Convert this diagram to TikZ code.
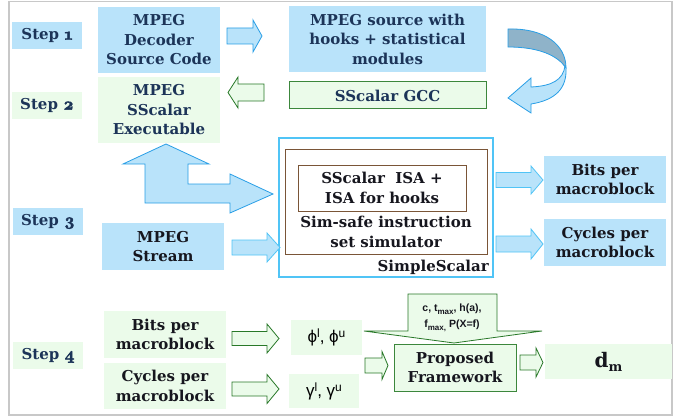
\documentclass[tikz,border=0pt]{standalone}
\usepackage{fontspec}
\newfontfamily\dv{DejaVu Serif}
\newfontfamily\sansf{Liberation Sans}
\newfontfamily\osnum{Latin Modern Roman}[Numbers=OldStyle, FakeBold=3]
\definecolor{lblue}{RGB}{185,227,250}
\definecolor{lgreen}{RGB}{235,251,234}
\definecolor{navy}{RGB}{28,52,88}
\definecolor{txt}{RGB}{22,22,30}
\definecolor{ablue}{RGB}{40,158,230}
\definecolor{cblue}{RGB}{80,196,246}
\definecolor{dgreen}{RGB}{40,120,40}
\definecolor{bgreen}{RGB}{60,135,60}
\definecolor{framegray}{RGB}{200,200,200}
\definecolor{brownc}{RGB}{122,85,55}
\definecolor{ribbon}{RGB}{143,179,201}
\newcommand{\blockarrow}[7]{% style, x1, x2, yc, shaft, head, headbase
  \filldraw[#1] (#2,#4-#5) -- (#7,#4-#5) -- (#7,#4-#6) -- (#3,#4) -- (#7,#4+#6) -- (#7,#4+#5) -- (#2,#4+#5) -- cycle;}
\tikzset{
  base/.style={inner sep=0pt, align=center, font=\dv\bfseries\fontsize{15}{19.5}\selectfont},
  bbox/.style={base, fill=lblue, text=navy},
  gbox/.style={base, fill=lgreen, text=navy},
  stepbox/.style={base, minimum width=70pt, minimum height=27pt, font=\dv\bfseries\fontsize{14}{17}\selectfont},
  barrow/.style={fill=lblue, draw=ablue, line width=0.8pt, line join=miter},
  carrow/.style={fill=lblue, draw=cblue, line width=0.8pt, line join=miter},
  garrow/.style={fill=lgreen, draw=dgreen, line width=0.8pt, line join=miter},
}
\newcommand{\onum}[1]{{\osnum\bfseries\fontsize{17}{17}\selectfont #1}}
\begin{document}
\begin{tikzpicture}[x=1pt,y=-1pt]
\useasboundingbox (0,0) rectangle (688,417);
\draw[framegray, line width=1.2pt] (9,1.5) rectangle (672,415);

% step labels
\node[stepbox, bbox] (s1) at (47,35.5) {Step \onum{1}};
\node[stepbox, gbox] (s2) at (47,105.5) {Step \onum{2}};
\node[stepbox, bbox] (s3) at (48,221.5) {Step \onum{3}};
\node[stepbox, gbox] (s4) at (48,355.5) {Step \onum{4}};

% step 1 / 2
\node[bbox, minimum width=122pt, minimum height=66pt] (src) at (159,40) {MPEG\\Decoder\\Source Code};
\node[gbox, minimum width=122pt, minimum height=66pt] (exe) at (159,110) {MPEG\\SScalar\\Executable};
\node[bbox, minimum width=197pt, minimum height=66pt] (hooks) at (387.5,39) {MPEG source with\\hooks + statistical\\modules};
\node[gbox, draw=bgreen, line width=1pt, minimum width=197pt, minimum height=27pt] (gcc) at (387.5,95.5) {SScalar GCC};

\blockarrow{barrow}{227}{262}{36}{8}{16}{253}
\blockarrow{garrow}{264}{228}{92.5}{8.5}{15.5}{238}

% curved arrow
\filldraw[fill=ribbon, draw=ablue, line width=0.8pt] (508,29) .. controls (545,28) and (566,45) .. (566,68) .. controls (558,56) and (540,47) .. (508,47) -- cycle;
\filldraw[fill=lblue, draw=ablue, line width=0.8pt, line join=miter] (565,66) .. controls (563,80) and (552,86) .. (531,87) -- (531,78) -- (508,98) -- (531,113) -- (531,104) .. controls (556,100) and (567,88) .. (566,68) -- cycle;

% step 3
\node[draw=cblue, line width=1.6pt, fill=white, minimum width=214pt, minimum height=139pt, inner sep=0pt] (ss) at (386,207.5) {};
\node[draw=brownc, line width=1pt, minimum width=202pt, minimum height=104pt, inner sep=0pt] (sim) at (386,202) {};
\node[draw=brownc, line width=1pt, minimum width=168pt, minimum height=46pt, inner sep=0pt] (isa) at (382,188) {};
\node[base, text=txt] (isat) at (isa.center) {SScalar\ \ ISA +\\ISA for hooks};
\node[base, text=txt] (simt) at (386,232) {Sim-safe instruction\\set simulator};
\node[base, text=txt, anchor=east] (sst) at (489,267) {SimpleScalar};

\node[bbox, text=txt, minimum width=122pt, minimum height=47pt] (stream) at (163,246.5) {MPEG\\Stream};
\node[bbox, text=txt, minimum width=122pt, minimum height=47pt] (bits1) at (605,179.5) {Bits per\\macroblock};
\node[bbox, text=txt, minimum width=122pt, minimum height=47pt] (cyc1) at (605,242.5) {Cycles per\\macroblock};

\filldraw[barrow] (166,144) -- (209,164) -- (188,164) -- (188,184) -- (230,184) -- (230,174) -- (273,194) -- (230,213) -- (230,203) -- (145,203) -- (145,164) -- (123,164) -- cycle;
\blockarrow{carrow}{232}{280}{247.5}{7.5}{14.5}{267}
\blockarrow{carrow}{496}{543}{180}{7.5}{14}{531}
\blockarrow{carrow}{496}{543}{244}{8}{15}{531}

% step 4
\node[gbox, text=txt, minimum width=122pt, minimum height=47pt] (bits2) at (165,334.5) {Bits per\\macroblock};
\node[gbox, text=txt, minimum width=122pt, minimum height=46pt] (cyc2) at (165,386) {Cycles per\\macroblock};
\node[fill=lgreen, inner sep=0pt, minimum width=71pt, minimum height=35pt, font=\sansf\fontsize{17}{17}\selectfont] (phi) at (326.5,337.5) {ϕ\raisebox{5pt}{\fontsize{12}{12}\selectfont l}, ϕ\raisebox{5pt}{\fontsize{12}{12}\selectfont u}};
\node[fill=lgreen, inner sep=0pt, minimum width=70pt, minimum height=34pt, font=\sansf\fontsize{17}{17}\selectfont] (gam) at (324,391) {γ\raisebox{5pt}{\fontsize{12}{12}\selectfont l}, γ\raisebox{5pt}{\fontsize{12}{12}\selectfont u}};
\blockarrow{garrow}{232}{279}{338.5}{7}{14.5}{267}
\blockarrow{garrow}{232}{279}{389}{7}{14.5}{267}
\blockarrow{garrow}{365}{388}{365.5}{7.5}{14}{382}

\filldraw[garrow] (408,294) -- (497,294) -- (497,331) -- (542,331) -- (454,343) -- (364,331) -- (408,331) -- cycle;
\node[inner sep=0pt, align=center, font=\sansf\bfseries\fontsize{10.5}{16}\selectfont, text=txt] (params) at (452,318) {c, t\raisebox{-2.5pt}{\fontsize{8}{8}\selectfont max}, h(a),\\f\raisebox{-2.5pt}{\fontsize{8}{8}\selectfont max,} P(X=f)};

\node[gbox, text=txt, draw=bgreen, line width=1pt, minimum width=122pt, minimum height=47pt] (pf) at (455,367.5) {Proposed\\Framework};
\blockarrow{garrow}{520}{543}{362.5}{7.5}{14.5}{536}
\node[fill=lgreen, inner sep=0pt, minimum width=127pt, minimum height=35pt, font=\dv\bfseries\fontsize{20}{20}\selectfont, text=txt] (dm) at (608.5,361.5) {d\raisebox{-4pt}{\fontsize{13}{13}\selectfont m}};
\end{tikzpicture}
\end{document}
